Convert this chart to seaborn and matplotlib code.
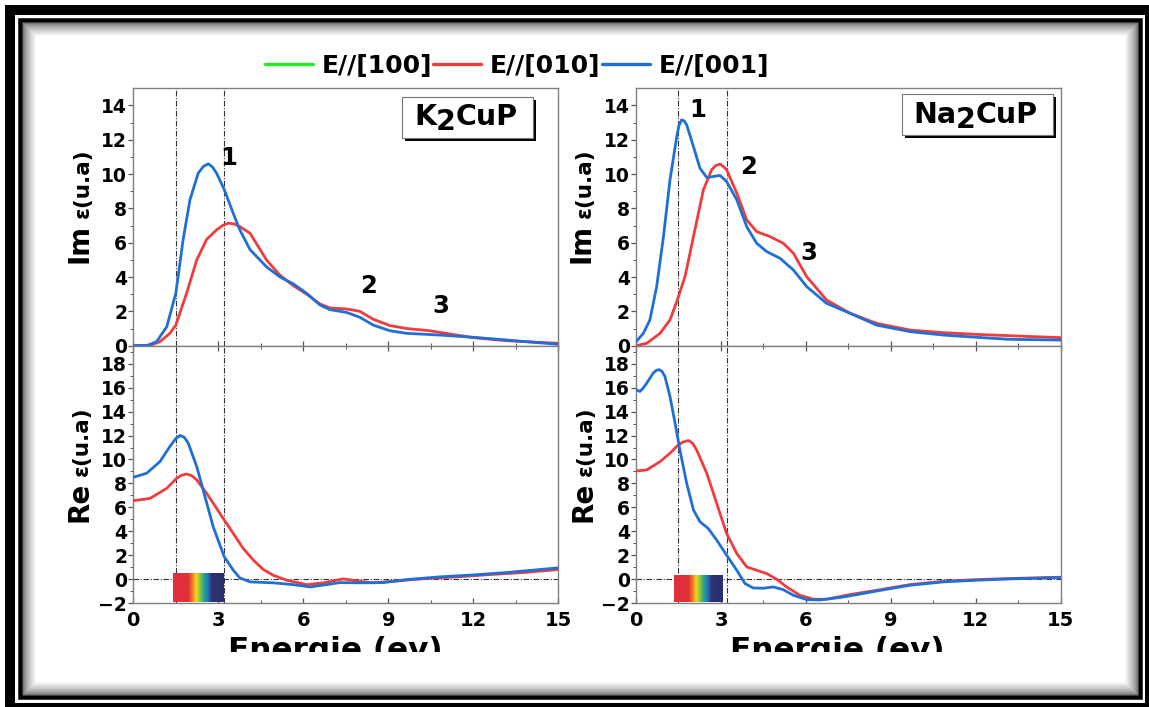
import numpy as np
import matplotlib
matplotlib.use("Agg")
import matplotlib.pyplot as plt
import seaborn as sns
from matplotlib.patches import Rectangle
from matplotlib.lines import Line2D
from matplotlib.text import Annotation
from matplotlib.colors import LinearSegmentedColormap
from matplotlib.transforms import Bbox, TransformedBbox

# ---------------- data ----------------
legend_labels = ["E//[100]", "E//[010]", "E//[001]"]
x_ticks = [0, 3, 6, 9, 12, 15]
im_yticks = [0, 2, 4, 6, 8, 10, 12, 14]
re_yticks = [-2, 0, 2, 4, 6, 8, 10, 12, 14, 16, 18]
visible_band = [1.5, 3.2]          # dash-dot verticals (eV)

# K2CuP  Im eps
k_im_blue_e = [0, 0.5, 0.82, 1.18, 1.5, 1.76, 2.0, 2.29, 2.47, 2.65, 2.8, 2.94, 3.21, 3.53, 3.76,
               4.12, 4.7, 5.18, 5.65, 6.12, 6.59, 6.94, 7.53, 8.0, 8.47, 9.06, 9.65, 10.82, 12.0, 13.18, 15.0]
k_im_blue_v = [0, 0.02, 0.23, 1.1, 3.05, 6.2, 8.5, 10.05, 10.44, 10.6, 10.4, 10.05, 9.1, 7.7, 6.75,
               5.6, 4.6, 4.0, 3.6, 3.05, 2.37, 2.1, 1.94, 1.65, 1.2, 0.87, 0.72, 0.62, 0.49, 0.33, 0.08]
k_im_red_e = [0, 0.6, 0.94, 1.29, 1.5, 1.88, 2.24, 2.59, 2.94, 3.15, 3.35, 3.55, 3.76, 4.12, 4.7, 5.18, 5.65,
              6.12, 6.59, 6.94, 7.53, 8.0, 8.47, 9.06, 9.65, 10.47, 11.18, 12.0, 13.18, 15.0]
k_im_red_v = [0, 0.03, 0.23, 0.72, 1.2, 3.05, 5.0, 6.2, 6.75, 7.0, 7.14, 7.1, 6.94, 6.55, 5.0, 4.1, 3.5,
              3.0, 2.43, 2.2, 2.14, 2.0, 1.54, 1.17, 1.0, 0.87, 0.68, 0.47, 0.29, 0.14]

# K2CuP  Re eps
k_re_blue_e = [0, 0.47, 0.94, 1.29, 1.5, 1.65, 1.8, 1.94, 2.24, 2.53, 2.82, 3.21, 3.53, 3.76, 4.12,
               4.94, 5.65, 6.24, 6.82, 7.29, 8.0, 8.82, 9.65, 10.82, 12.0, 13.18, 15.0]
k_re_blue_v = [8.51, 8.85, 9.82, 11.08, 11.75, 12.0, 11.85, 11.36, 9.4, 6.9, 4.38, 1.87, 0.75, 0.11, -0.22,
               -0.3, -0.45, -0.64, -0.45, -0.28, -0.3, -0.28, -0.03, 0.2, 0.36, 0.56, 0.95]
k_re_red_e = [0, 0.59, 1.18, 1.53, 1.7, 1.88, 2.06, 2.24, 2.59, 2.94, 3.21, 3.53, 3.88, 4.24, 4.59, 4.94, 5.41,
              6.12, 6.71, 7.41, 8.0, 8.47, 9.18, 10.24, 11.41, 12.59, 13.76, 15.0]
k_re_red_v = [6.56, 6.75, 7.59, 8.43, 8.68, 8.79, 8.65, 8.29, 7.17, 5.92, 4.94, 3.82, 2.57, 1.59, 0.81, 0.33, -0.08,
              -0.45, -0.3, 0.03, -0.17, -0.3, -0.17, 0.05, 0.2, 0.39, 0.56, 0.81]

# Na2CuP  Im eps
n_im_blue_e = [0, 0.26, 0.49, 0.73, 0.97, 1.2, 1.44, 1.52, 1.61, 1.7, 1.79, 2.03, 2.26, 2.5, 2.73, 2.97, 3.2,
               3.56, 3.91, 4.26, 4.62, 5.09, 5.56, 6.03, 6.73, 7.56, 8.5, 9.68, 10.86, 12.03, 13.21, 15.0]
n_im_blue_v = [0.23, 0.72, 1.5, 3.44, 6.36, 9.66, 12.19, 12.85, 13.16, 13.1, 12.87, 11.6, 10.34, 9.8, 9.86, 9.92, 9.57,
               8.5, 6.94, 5.97, 5.48, 5.09, 4.41, 3.44, 2.47, 1.89, 1.2, 0.82, 0.62, 0.49, 0.37, 0.33]
n_im_red_e = [0, 0.38, 0.85, 1.2, 1.46, 1.73, 2.03, 2.38, 2.67, 2.82, 2.97, 3.08, 3.2, 3.56, 3.91, 4.26, 4.73,
              5.2, 5.56, 6.03, 6.73, 7.56, 8.5, 9.68, 10.86, 12.03, 13.21, 15.0]
n_im_red_v = [0, 0.14, 0.72, 1.5, 2.66, 4.02, 6.36, 9.08, 10.25, 10.5, 10.58, 10.45, 10.25, 8.89, 7.33, 6.65, 6.36,
              5.97, 5.39, 4.02, 2.66, 1.89, 1.3, 0.91, 0.76, 0.66, 0.58, 0.47]

# Na2CuP  Re eps
n_re_blue_e = [0, 0.14, 0.25, 0.38, 0.61, 0.72, 0.82, 0.92, 1.02, 1.2, 1.38, 1.55, 1.79, 2.03, 2.26, 2.55, 2.85, 3.2,
               3.56, 3.85, 4.14, 4.5, 4.85, 5.2, 5.56, 6.03, 6.5, 7.33, 8.5, 9.68, 10.86, 12.03, 13.21, 15.0]
n_re_blue_v = [15.82, 15.68, 15.95, 16.38, 17.22, 17.45, 17.5, 17.35, 16.94, 15.27, 13.03, 10.8, 8.01, 5.78, 4.8,
               4.24, 3.27, 2.01, 0.75, -0.36, -0.73, -0.75, -0.64, -0.87, -1.34, -1.7, -1.73, -1.48, -0.98, -0.5,
               -0.22, -0.08, 0.03, 0.14]
n_re_red_e = [0, 0.38, 0.85, 1.2, 1.46, 1.65, 1.85, 2.0, 2.14, 2.5, 2.85, 3.2, 3.56, 3.91, 4.26, 4.62, 4.97,
              5.32, 5.79, 6.26, 6.73, 7.56, 8.5, 9.68, 10.86, 12.03, 13.21, 15.0]
n_re_red_v = [9.04, 9.13, 9.82, 10.52, 11.14, 11.45, 11.58, 11.35, 10.8, 8.85, 6.34, 3.82, 2.15, 1.03, 0.75, 0.47, 0,
              -0.64, -1.34, -1.67, -1.67, -1.28, -0.92, -0.45, -0.17, -0.03, 0.06, 0.17]

# peak labels (energy, value at label baseline)
k_peak_labels = ["1", "2", "3"]
k_peak_e = [3.38, 8.32, 10.86]
k_peak_v = [10.54, 3.07, 1.91]
n_peak_labels = ["1", "2", "3"]
n_peak_e = [2.19, 3.99, 6.11]
n_peak_v = [13.34, 10.02, 5.0]

# ---------------- style ----------------
GREEN, RED, BLUE = "#22ee22", "#f03c3c", "#1f6fd8"
W, H = 1149, 707

sns.set_style("white")
plt.rcParams['font.family'] = ['DejaVu Sans']
plt.rcParams['font.weight'] = 'bold'
plt.rcParams['text.color'] = 'black'
plt.rcParams['xtick.color'] = 'black'
plt.rcParams['ytick.color'] = 'black'

fig = plt.figure(figsize=(W / 100, H / 100), dpi=100)
fig.patch.set_facecolor("white")


def fx(x):
    return x / W


def fy(y):
    return 1 - y / H


def axes_rect(x0, x1, y0, y1):
    return [fx(x0), fy(y1), (x1 - x0) / W, (y1 - y0) / H]


# ---------------- frame ----------------
def frame_rect(x0, y0, x1, y1, lw_px, color, z=0.1):
    r = Rectangle((fx(x0), fy(y1)), (x1 - x0) / W, (y1 - y0) / H, transform=fig.transFigure,
                  fill=False, edgecolor=color, lw=lw_px * 0.72, zorder=z)
    fig.add_artist(r)


frame_rect(10, 10, 1150, 708, 10, "black")
frame_rect(20, 20, 1140, 697, 4.5, "black")
N = 14
for i in range(N):
    d = i + 0.5
    g = 0.45 + 0.55 * (i / (N - 1)) ** 0.7
    frame_rect(22.3 + d, 22.3 + d, 1137.7 - d, 694.7 - d, 1.2, (g, g, g), z=0.05)

# ---------------- axes ----------------
ax_k_im = fig.add_axes(axes_rect(133.3, 558.3, 88.3, 345.7))
ax_k_re = fig.add_axes(axes_rect(133.3, 558.3, 345.7, 603.2))
ax_n_im = fig.add_axes(axes_rect(636, 1060.7, 88.3, 345.7))
ax_n_re = fig.add_axes(axes_rect(636, 1060.7, 345.7, 603.2))

spec_cmap = LinearSegmentedColormap.from_list(
    "spec",
    [(0.0, "#e0303a"), (0.30, "#e0303a"), (0.38, "#f07a22"), (0.45, "#f8d41e"),
     (0.53, "#8cc63e"), (0.61, "#1fa58f"), (0.69, "#2b6fbf"), (0.76, "#2e3372"), (1.0, "#2c2f6e")])


def draw_panel(ax, be, bv, re_, rv, ylim, yticks, is_re, band):
    sns.lineplot(x=re_, y=rv, ax=ax, color=RED, lw=2.0, estimator=None, zorder=3)
    sns.lineplot(x=be, y=bv, ax=ax, color=BLUE, lw=2.0, estimator=None, zorder=4)
    for line in ax.lines:
        line.set_solid_joinstyle("round")
    for xv in visible_band:
        ax.axvline(xv, color="#333333", lw=0.8, ls=(0, (5, 1.5, 1, 1.5)), zorder=1)
    if is_re:
        ax.axhline(0, color="#333333", lw=0.8, ls=(0, (5, 1.5, 1, 1.5)), zorder=1)
        grad = np.linspace(0, 1, 256).reshape(1, -1)
        ax.imshow(grad, extent=band, aspect="auto", cmap=spec_cmap, zorder=2.5, interpolation="bilinear")
    ax.set_xlim(0, 15)
    ax.set_ylim(*ylim)
    ax.set_xticks(x_ticks)
    ax.set_xticks(np.arange(1.5, 15, 3), minor=True)
    ax.set_yticks(yticks)
    ax.set_yticks(np.arange(yticks[0], ylim[1], 1), minor=True)
    ax.set_xlabel("")
    ax.set_ylabel("")
    for s in ax.spines.values():
        s.set_color("#808080")
        s.set_linewidth(1.0)
        s.set_visible(True)
    ax.tick_params(axis="y", which="both", direction="out", colors="black", labelsize=13.5, pad=1.0,
                   left=True, right=False)
    ax.tick_params(axis="y", which="major", length=3.5, width=0.9, color="#555555")
    ax.tick_params(axis="y", which="minor", length=2, width=0.7, color="#555555")
    ax.tick_params(axis="x", which="both", direction="in", bottom=True, top=is_re, labelsize=14,
                   pad=5.5, color="#555555")
    ax.tick_params(axis="x", which="major", length=3.5, width=0.9)
    ax.tick_params(axis="x", which="minor", length=2, width=0.7)
    if not is_re:
        ax.tick_params(axis="x", labelbottom=False)
    for lab in ax.get_xticklabels() + ax.get_yticklabels():
        lab.set_fontweight("bold")
    ax.set_facecolor("white")


draw_panel(ax_k_im, k_im_blue_e, k_im_blue_v, k_im_red_e, k_im_red_v, (0, 15), im_yticks, False, None)
draw_panel(ax_k_re, k_re_blue_e, k_re_blue_v, k_re_red_e, k_re_red_v, (-2, 19.5), re_yticks, True,
           [1.4, 3.2, -1.92, 0.5])
draw_panel(ax_n_im, n_im_blue_e, n_im_blue_v, n_im_red_e, n_im_red_v, (0, 15), im_yticks, False, None)
draw_panel(ax_n_re, n_re_blue_e, n_re_blue_v, n_re_red_e, n_re_red_v, (-2, 19.5), re_yticks, True,
           [1.35, 3.07, -1.92, 0.33])

for ax, labs, es, vs in ((ax_k_im, k_peak_labels, k_peak_e, k_peak_v),
                         (ax_n_im, n_peak_labels, n_peak_e, n_peak_v)):
    for lab, e, v in zip(labs, es, vs):
        ax.text(e, v, lab, ha="center", va="baseline", fontsize=17.5, fontweight="bold", zorder=6)


# ---------------- y labels ----------------
def ylabel(prefix, xb, ystart):
    t1 = fig.text(fx(xb), fy(ystart), prefix, rotation=90, rotation_mode="anchor", ha="left",
                  va="baseline", fontsize=20, fontweight="bold")
    a = Annotation("ε(u.a)", xy=(fx(xb + 1), 1.0), xycoords=("figure fraction", t1), xytext=(0, 4),
                   textcoords="offset points", rotation=90, rotation_mode="anchor", ha="left",
                   va="baseline", fontsize=15.5, fontweight="bold")
    fig.add_artist(a)


ylabel("Im", 88, 263)
ylabel("Re", 87, 522)
ylabel("Im", 590, 263)
ylabel("Re", 591, 522)

# ---------------- x labels (clipped at the bottom like the reference) ----------------
clip = TransformedBbox(Bbox([[0, fy(652)], [1, 1]]), fig.transFigure)
for cx in (335.5, 837.5):
    t = fig.text(fx(cx), fy(659), "Energie (ev)", ha="center", va="baseline", fontsize=22.4,
                 fontweight="bold")
    t.set_clip_box(clip)
    t.set_clip_on(True)


# ---------------- compound boxes ----------------
def compound(pre, post, box, x_start, baseline, drop):
    x0, x1, y0, y1 = box
    fig.add_artist(Rectangle((fx(x0 + 3), fy(y1 + 3)), (x1 - x0) / W, (y1 - y0) / H,
                             transform=fig.transFigure, facecolor="black", edgecolor="none", zorder=5))
    fig.add_artist(Rectangle((fx(x0), fy(y1)), (x1 - x0) / W, (y1 - y0) / H,
                             transform=fig.transFigure, facecolor="white", edgecolor="#777777",
                             lw=0.8, zorder=5.5))
    t1 = fig.text(fx(x_start), fy(baseline), pre, ha="left", va="baseline", fontsize=20.5,
                  fontweight="bold", zorder=7)
    t2 = Annotation("2", xy=(1, fy(baseline)), xycoords=(t1, "figure fraction"), xytext=(0, -drop),
                    textcoords="offset points", ha="left", va="baseline", fontsize=20.5,
                    fontweight="bold", zorder=7)
    fig.add_artist(t2)
    t3 = Annotation(post, xy=(1, fy(baseline)), xycoords=(t2, "figure fraction"), ha="left",
                    va="baseline", fontsize=20.5, fontweight="bold", zorder=7)
    fig.add_artist(t3)


compound("K", "CuP", (401.7, 532.7, 97.3, 138.3), 414, 125, 3.6)
compound("Na", "CuP", (901.7, 1052.7, 94, 135), 913, 123, 3.6)

# ---------------- legend ----------------
handles = [Line2D([], [], color=c, lw=2.4) for c in (GREEN, RED, BLUE)]
fig.legend(handles, legend_labels, loc="center", bbox_to_anchor=(fx(517), fy(66)), ncol=3,
           frameon=False, prop={"weight": "bold", "size": 18}, handlelength=1.92,
           handletextpad=0.36, columnspacing=0.05)

fig.savefig("out.png", dpi=100, facecolor="white")
